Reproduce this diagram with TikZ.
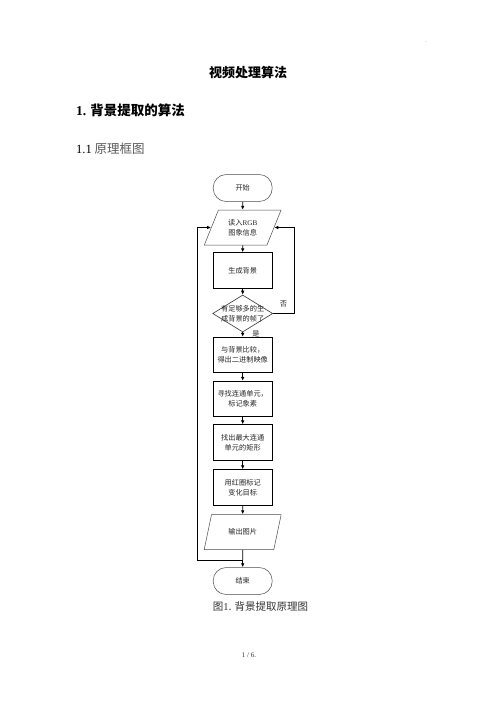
\documentclass[tikz,border=0pt]{standalone}
\usepackage{fontspec}
\setmainfont{Noto Sans CJK SC}
\newfontfamily\latin{Liberation Serif}
\usetikzlibrary{shapes.geometric,arrows.meta,positioning,calc}
\tikzset{
  flowtext/.style={font=\fontsize{7.2}{10}\selectfont, text=black!85, align=center},
  procbox/.style={draw=black, line width=0.9pt, rectangle, minimum width=59.5pt, minimum height=35.5pt, inner sep=0pt, flowtext},
  termbox/.style={draw=black!70, line width=0.5pt, rectangle, rounded corners=13pt, minimum width=59pt, minimum height=27pt, inner sep=0pt, flowtext},
  iobox/.style={draw=black!70, line width=0.5pt, trapezium, trapezium left angle=63, trapezium right angle=117, trapezium stretches=true, minimum width=77pt, minimum height=35pt, inner sep=0pt, flowtext},
  decbox/.style={draw=black!80, line width=0.6pt, diamond, minimum width=60pt, minimum height=37pt, inner sep=0pt},
  flowarrow/.style={line width=0.9pt, -{Latex[length=4pt,width=3.6pt]}},
  flowline/.style={line width=0.9pt},
  edgelabel/.style={font=\fontsize{7.2}{9}\selectfont, text=black!85}
}
\begin{document}
\begin{tikzpicture}[x=1pt,y=-1pt]
\fill[white] (0,0) rectangle (496,702);
\useasboundingbox (0,0) rectangle (496,702);

% page texts
\node[font=\fontsize{5}{6}\selectfont, text=black!60] (dot) at (426,42) {.};
\node[font=\fontsize{13}{15}\selectfont\bfseries] (title) at (248,73) {视频处理算法};
\node[anchor=west, font=\fontsize{13.5}{16}\selectfont\bfseries, inner sep=0pt] (h1) at (76,110.5) {{\latin\bfseries 1.} 背景提取的算法};
\node[anchor=west, font=\fontsize{12.5}{15}\selectfont, inner sep=0pt] (h2) at (76,148.5) {{\latin 1.1} \textcolor{black!65}{原理框图}};
\node[font=\fontsize{10.5}{12}\selectfont, text=black!80] (cap) at (260.5,606.7) {图{\latin 1}. 背景提取原理图};
\node[font=\fontsize{7}{8}\selectfont, text=black!80] (foot) at (249,655) {{\latin 1 / 6.}};

% flowchart nodes
\node[termbox] (start) at (242.7,188) {开始};
\node[iobox] (p1) at (242.7,227.5) {读入{\latin RGB}\\图象信息};
\node[procbox] (b1) at (242.7,270.5) {生成背景};
\node[decbox, label={[flowtext]center:有足够多的生\\成背景的帧了}] (d) at (242.7,313.5) {};
\node[procbox] (b2) at (242.7,355) {与背景比较，\\得出二进制映像};
\node[procbox] (b3) at (242.7,399) {寻找连通单元，\\标记象素};
\node[procbox] (b4) at (242.7,442.5) {找出最大连通\\单元的矩形};
\node[procbox] (b5) at (242.7,487.5) {用红圈标记\\变化目标};
\node[iobox] (p2) at (242.7,532) {输出图片};
\node[termbox] (end) at (242.7,581) {结束};

\coordinate (j) at (242.7,560);
\coordinate (lc) at (197.3,560);
\coordinate (rc) at (294.5,313.5);

% connectors
\draw[flowarrow] (start) -- (p1);
\draw[flowarrow] (p1) -- (b1);
\draw[flowarrow] (b1) -- (d);
\draw[flowarrow] (d) -- node[edgelabel, pos=0.3, right=6pt] {是} (b2);
\draw[flowarrow] (d.east) -- (rc) |- (p1.east);
\node[edgelabel] (no) at (283.5,304) {否};
\draw[flowarrow] (b2) -- (b3);
\draw[flowarrow] (b3) -- (b4);
\draw[flowarrow] (b4) -- (b5);
\draw[flowarrow] (b5) -- (p2);
\draw[flowline] (p2.south) -- (j);
\draw[flowarrow] (j) -- (end.north);
\draw[flowarrow] (j) -- (lc) |- (p1.west);
\end{tikzpicture}
\end{document}
